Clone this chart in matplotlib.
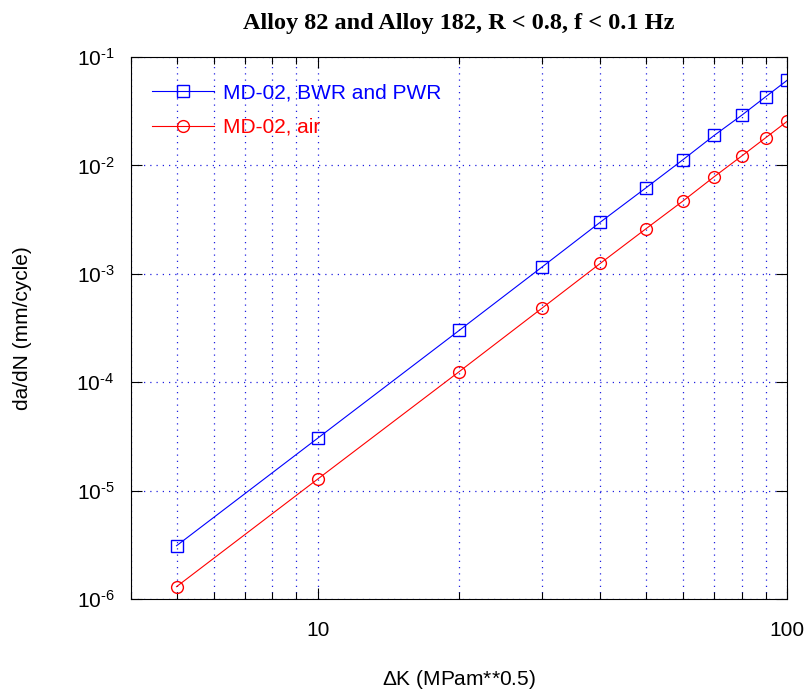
import numpy as np
import matplotlib.pyplot as plt
from matplotlib.ticker import LogLocator, NullFormatter, NullLocator

plt.rcParams['font.family'] = ['Liberation Sans', 'DejaVu Sans']
plt.rcParams['mathtext.fontset'] = 'custom'
plt.rcParams['mathtext.rm'] = 'Liberation Sans'
plt.rcParams['mathtext.it'] = 'Liberation Sans:italic'
plt.rcParams['axes.unicode_minus'] = False

delta_k = [5, 10, 20, 30, 40, 50, 60, 70, 80, 90, 100]
rate_water = [3.1e-6, 3.05e-5, 3.0e-4, 1.15e-3, 3.0e-3, 6.2e-3, 1.13e-2, 1.9e-2, 2.9e-2, 4.3e-2, 6.1e-2]
rate_air = [1.3e-6, 1.28e-5, 1.25e-4, 4.8e-4, 1.25e-3, 2.6e-3, 4.7e-3, 7.9e-3, 1.22e-2, 1.8e-2, 2.55e-2]
x_ticks = [10, 100]
x_tick_labels = ['10', '100']
y_ticks = [1e-6, 1e-5, 1e-4, 1e-3, 1e-2, 1e-1]
y_tick_labels = ['10$^{\\text{-6}}$', '10$^{\\text{-5}}$', '10$^{\\text{-4}}$',
                 '10$^{\\text{-3}}$', '10$^{\\text{-2}}$', '10$^{\\text{-1}}$']

fig = plt.figure(figsize=(8.09, 6.97), dpi=100)
ax = fig.add_axes([0.162, 0.1406, 0.811, 0.7776])

ax.plot(delta_k, rate_water, color='#0000ff', lw=0.8, marker='s', ms=9,
        mfc='none', mew=1.0, label='MD-02, BWR and PWR')
ax.plot(delta_k, rate_air, color='#ff0000', lw=0.8, marker='o', ms=8.5,
        mfc='none', mew=1.0, label='MD-02, air')

ax.set_xscale('log')
ax.set_yscale('log')
ax.set_xlim(4, 100)
ax.set_ylim(1e-6, 1e-1)

ax.set_xticks(x_ticks)
ax.set_xticklabels(x_tick_labels)
ax.xaxis.set_minor_locator(LogLocator(base=10, subs=np.arange(2, 10), numticks=20))
ax.xaxis.set_minor_formatter(NullFormatter())
ax.set_yticks(y_ticks)
ax.set_yticklabels(y_tick_labels)
ax.yaxis.set_minor_locator(NullLocator())

ax.tick_params(which='major', direction='in', length=8, width=0.8,
               top=True, right=True, labelsize=15)
ax.tick_params(which='minor', direction='in', length=5, width=0.8,
               top=True, right=True)
ax.tick_params(axis='x', which='major', pad=16)
ax.tick_params(axis='y', which='major', pad=12)

ax.grid(True, which='major', color='#2020e0', ls=(0, (1, 4)), lw=0.9)
ax.grid(True, which='minor', axis='x', color='#2020e0', ls=(0, (1, 4)), lw=0.9)

ax.set_xlabel('$\\Delta$K (MPam**0.5)', fontsize=15, labelpad=20)
ax.set_ylabel('da/dN (mm/cycle)', fontsize=15, labelpad=32)
ax.set_title('Alloy 82 and Alloy 182, R < 0.8, f < 0.1 Hz',
             fontfamily='Liberation Serif', fontweight='bold', fontsize=17.5, pad=20)

ax.legend(loc='upper left', frameon=False, fontsize=15, labelcolor='linecolor',
          handlelength=3.0, handletextpad=0.4, borderaxespad=0.6, labelspacing=0.75,
          bbox_to_anchor=(0.0, 0.99))

fig.savefig('out.png', dpi=100)
